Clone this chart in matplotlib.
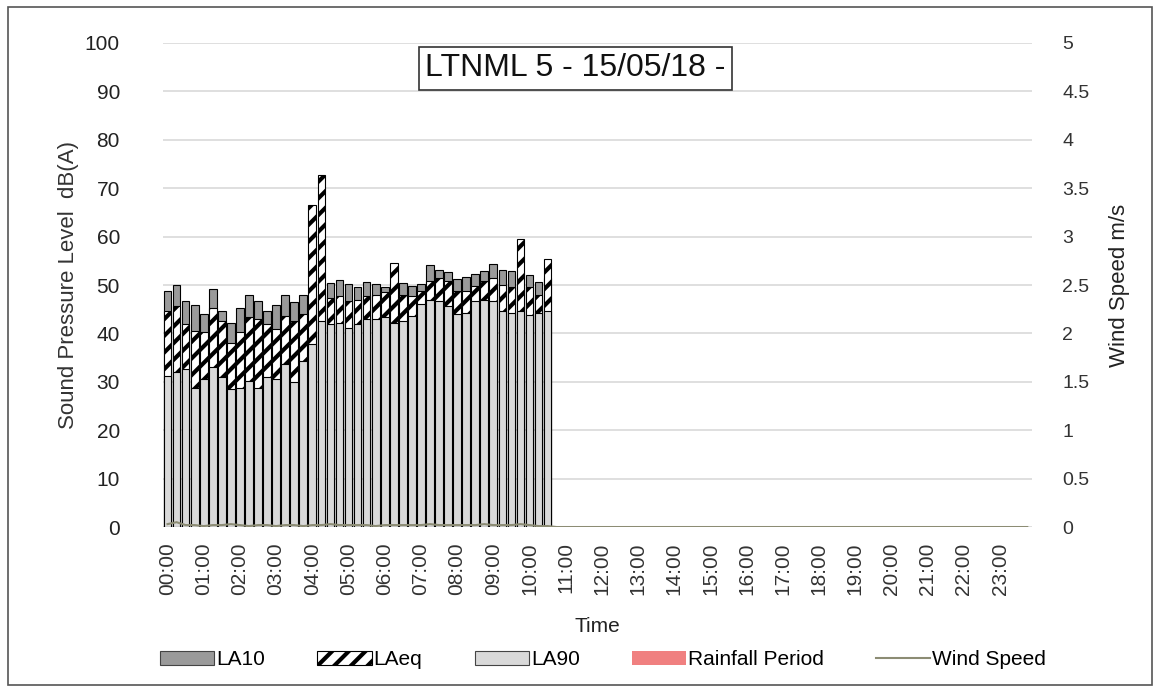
import matplotlib
matplotlib.use("Agg")
import matplotlib.pyplot as plt
from matplotlib.patches import Patch, Rectangle
from matplotlib.lines import Line2D

plt.rcParams['font.family'] = ['Liberation Sans', 'DejaVu Sans']
plt.rcParams['hatch.linewidth'] = 3.0

# 15-minute periods, 00:00 to 23:45 (96 slots); measurements stop at 10:45
time_labels = ["%02d:00" % h for h in range(24)]

la10 = [48.8, 50.0, 46.7, 45.9, 44.1, 49.2, 44.6, 42.2, 45.3, 47.9,
        46.7, 44.6, 45.9, 47.9, 46.4, 47.9, 48.0, 48.0, 50.5, 51.0,
        50.3, 49.5, 50.7, 50.3, 49.5, 50.5, 50.5, 49.8, 50.3, 54.1,
        53.0, 52.7, 51.2, 51.6, 52.3, 52.9, 54.4, 53.0, 52.9, 52.2,
        52.0, 50.7, 51.5]
laeq = [44.6, 45.7, 42.0, 40.5, 40.2, 45.3, 42.6, 38.1, 40.2, 43.3,
        43.0, 42.0, 40.9, 43.6, 42.6, 44.0, 66.6, 72.7, 47.4, 47.7,
        46.7, 47.0, 47.7, 48.0, 48.5, 54.5, 48.0, 47.7, 48.8, 50.8,
        51.5, 50.8, 48.8, 48.8, 49.8, 50.8, 51.5, 50.1, 49.5, 59.6,
        49.5, 48.0, 55.3]
la90 = [31.2, 32.1, 32.7, 28.8, 30.6, 33.0, 30.9, 28.6, 28.8, 30.2,
        28.8, 30.9, 30.6, 33.7, 29.9, 34.3, 37.8, 42.6, 42.0, 42.2,
        41.2, 41.9, 42.9, 42.9, 43.3, 42.2, 42.6, 43.6, 46.0, 47.0,
        46.7, 45.7, 44.0, 44.3, 46.7, 47.0, 46.7, 44.6, 44.3, 44.6,
        43.8, 44.3, 44.6]
wind = [0.03, 0.05, 0.02, 0.02, 0.01, 0.02, 0.02, 0.03, 0.02, 0.01,
        0.02, 0.02, 0.01, 0.02, 0.02, 0.01, 0.02, 0.02, 0.03, 0.02,
        0.02, 0.02, 0.02, 0.01, 0.02, 0.02, 0.02, 0.02, 0.02, 0.03,
        0.02, 0.02, 0.02, 0.02, 0.02, 0.03, 0.02, 0.02, 0.02, 0.03,
        0.02, 0.01, 0.01, 0.0, 0.0, 0.0, 0.0, 0.0, 0.0, 0.0,
        0.0, 0.0, 0.0, 0.0, 0.0, 0.0, 0.0, 0.0, 0.0, 0.0,
        0.0, 0.0, 0.0, 0.0, 0.0, 0.0, 0.0, 0.0, 0.0, 0.0,
        0.0, 0.0, 0.0, 0.0, 0.0, 0.0, 0.0, 0.0, 0.0, 0.0,
        0.0, 0.0, 0.0, 0.0, 0.0, 0.0, 0.0, 0.0, 0.0, 0.0,
        0.0, 0.0, 0.0, 0.0, 0.0, 0.0]

c10 = "#9a9a9a"
c90 = "#d9d9d9"
cwind = "#8c8c74"
crain = "#f08080"

fig = plt.figure(figsize=(11.6, 6.91), dpi=100)
ax = fig.add_axes([0.1405, 0.2373, 0.749, 0.7005])

x = list(range(len(la10)))
w = 0.85
ax.bar(x, la10, width=w, color=c10, edgecolor="black", linewidth=0.8, zorder=2)
ax.bar(x, laeq, width=w, color="white", edgecolor="black", hatch="//",
       linewidth=0.8, zorder=3)
ax.bar(x, la90, width=w, color=c90, edgecolor="black", linewidth=0.8, zorder=4)

ax.set_xlim(-0.5, 95.5)
ax.set_ylim(0, 100)
ax.set_yticks(range(0, 101, 10))
ax.set_xticks(range(0, 96, 4))
ax.set_xticklabels(time_labels, rotation=90, fontsize=15, color="#333333")
ax.tick_params(axis="y", labelsize=15, labelcolor="#222222", length=0, pad=31)
ax.tick_params(axis="x", length=0, pad=11)
ax.yaxis.grid(True, color="#d9d9d9", linewidth=1.2, zorder=0)
ax.set_axisbelow(True)
for s in ax.spines.values():
    s.set_visible(False)
ax.set_ylabel("Sound Pressure Level  dB(A)", fontsize=16, color="#333333", labelpad=4)
ax.set_xlabel("Time", fontsize=15, color="#222222", labelpad=16)

ax2 = ax.twinx()
ax2.plot(range(len(wind)), wind, color=cwind, linewidth=1.5, zorder=5)
ax2.set_ylim(0, 5)
rt = [0, 0.5, 1, 1.5, 2, 2.5, 3, 3.5, 4, 4.5, 5]
ax2.set_yticks(rt)
ax2.set_yticklabels(["0", "0.5", "1", "1.5", "2", "2.5", "3", "3.5", "4", "4.5", "5"])
ax2.tick_params(axis="y", labelsize=14, labelcolor="#333333", length=0, pad=22)
for s in ax2.spines.values():
    s.set_visible(False)
ax2.set_ylabel("Wind Speed m/s", fontsize=16, color="#222222", labelpad=14)

ax.text(0.475, 0.948, "LTNML 5 - 15/05/18 -", transform=ax.transAxes,
        ha="center", va="center", fontsize=23, color="#111111", zorder=10,
        bbox=dict(boxstyle="square,pad=0.2", facecolor="white", edgecolor="#333333", linewidth=1.2))

handles = [
    Patch(facecolor=c10, edgecolor="#444444", linewidth=0.8, label="LA10"),
    Patch(facecolor="white", edgecolor="black", hatch="//", linewidth=0.8, label="LAeq"),
    Patch(facecolor=c90, edgecolor="#444444", linewidth=0.8, label="LA90"),
    Patch(facecolor=crain, edgecolor="none", label="Rainfall Period"),
    Line2D([0], [0], color=cwind, linewidth=1.5, label="Wind Speed"),
]
fig.legend(handles=handles, loc="center", bbox_to_anchor=(0.52, 0.045), ncol=5,
           frameon=False, fontsize=15, handlelength=2.6, handleheight=0.7,
           handletextpad=0.1, columnspacing=2.5)

fig.patches.append(Rectangle((0.007, 0.008), 0.986, 0.982, transform=fig.transFigure,
                             fill=False, edgecolor="#555555", linewidth=1.2))

fig.savefig("out.png", dpi=100)
